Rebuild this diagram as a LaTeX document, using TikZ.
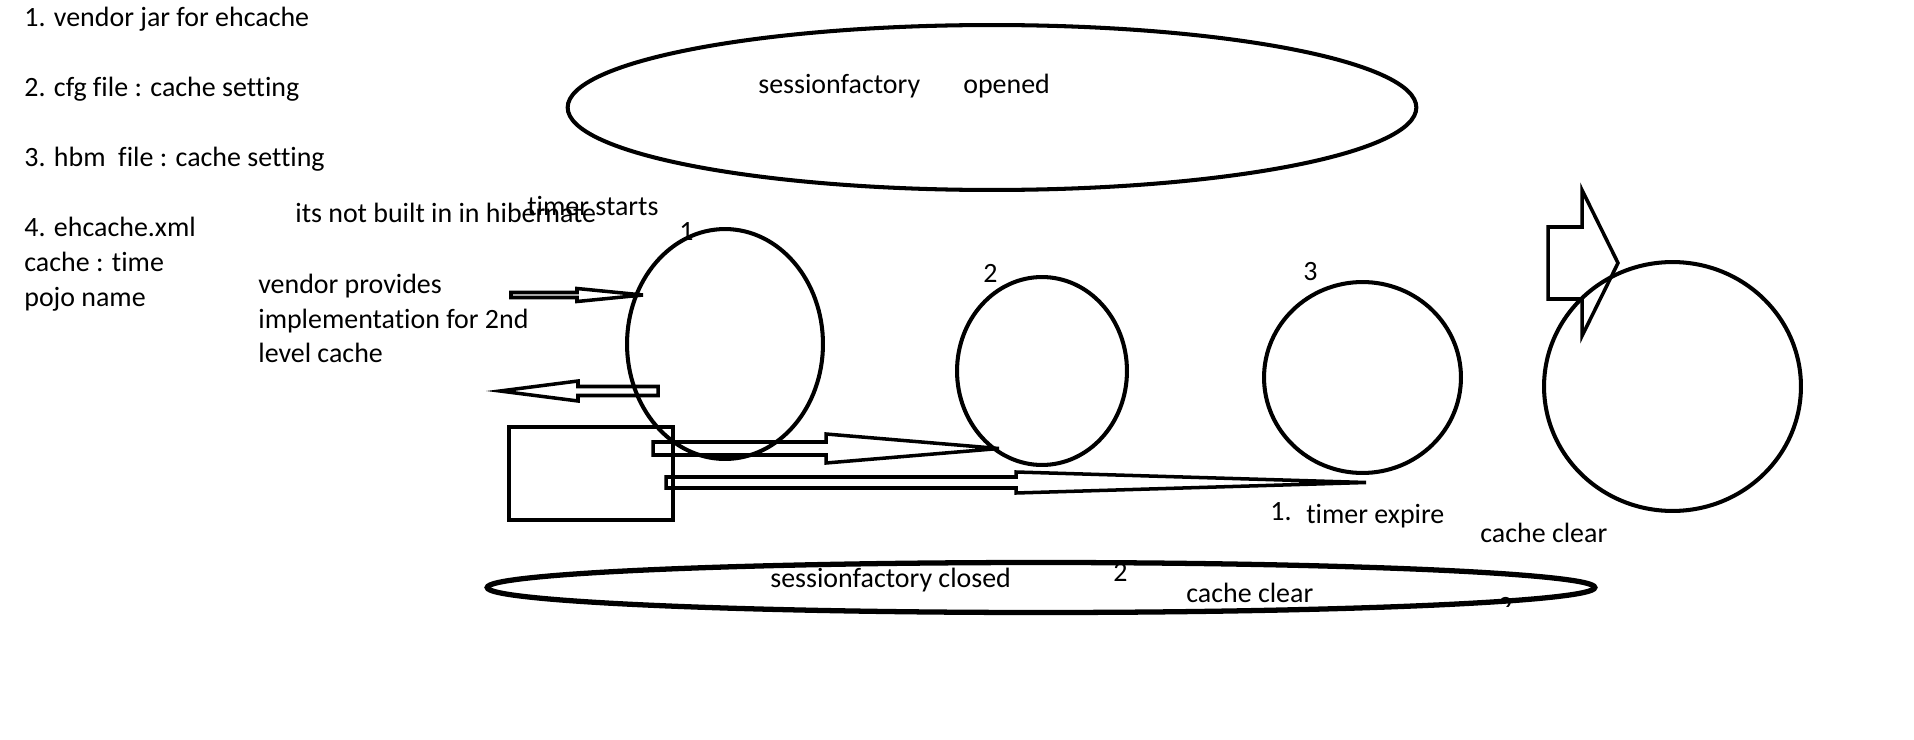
\documentclass[tikz,border=0pt]{standalone}
\usepackage{fontspec}
\setmainfont{Carlito}[Ligatures=CommonOff]
\usetikzlibrary{shapes.geometric}

% block arrow: tail x, head base x, tip x, y, shaft half, head half
\newcommand{\blockarrow}[6]{%
  \draw[barrow] (#1,#4-#5) -- (#2,#4-#5) -- (#2,#4-#6) -- (#3,#4)
    -- (#2,#4+#6) -- (#2,#4+#5) -- (#1,#4+#5) -- cycle;}

\begin{document}
\begin{tikzpicture}[
  x=0.02cm, y=-0.02cm,
  every node/.style = {font=\fontsize{15.9}{19}\selectfont, inner sep=0pt},
  txt/.style   = {anchor=base west},
  ring/.style 2 args = {ellipse, draw, line width=2.3pt,
                 minimum width=#1*0.04cm, minimum height=#2*0.04cm},
  barrow/.style = {draw, line width=2pt},
]
\useasboundingbox (0,0) rectangle (1914,740);

%% ── Left column notes ────────────────────────────────────────────────────────
\def\lx{24}
\node[txt] (n1) at (\lx, 26.7)  {1. vendor jar for ehcache};
\node[txt] (n2) at (\lx, 96.7)  {2. cfg file : cache setting};
\node[txt] (n3) at (\lx, 166.7) {3. hbm\ \ file : cache setting};
\node[txt] (n4) at (\lx, 236.7) {4. ehcache.xml};
\node[txt] (n5) at (\lx, 271.7) {cache : time};
\node[txt] (n6) at (\lx, 306.7) {pojo name};

%% ── Vendor notes ─────────────────────────────────────────────────────────────
\node[txt] (notbuilt) at (295, 222.7) {its not built in in hibernate};
\node[txt] (tstart)   at (527, 215)   {timer starts};
\node[txt] (vend1) at (258, 293.3) {vendor provides};
\node[txt] (vend2) at (258, 328.3) {implementation for 2nd};
\node[txt] (vend3) at (258, 362.7) {level cache};

%% ── Session factory opened ───────────────────────────────────────────────────
\node[ring={424.5}{82.5}] (sfo) at (992, 107.5) {};
\node[txt] (sfotxt) at (758, 93) {sessionfactory};
\node[txt] (opened) at (963, 93) {opened};

%% ── Cache regions ────────────────────────────────────────────────────────────
\node[ring={98}{115}]     (c1) at (725, 344)     {};
\node[ring={85}{94}]      (c2) at (1042, 371)    {};
\node[ring={98.5}{95.5}]  (c3) at (1362.5, 377.5) {};
\node[ring={128.5}{124.5}] (c4) at (1672.5, 386.5) {};
\node[txt] (l1) at (679, 240)  {1};
\node[txt] (l2) at (983, 282)  {2};
\node[txt] (l3) at (1303, 280) {3};

%% ── Box ──────────────────────────────────────────────────────────────────────
\node[draw, line width=2.3pt, minimum width=164*0.02cm,
      minimum height=93*0.02cm] (box) at (591, 473.5) {};

%% ── Block arrows ─────────────────────────────────────────────────────────────
\blockarrow{511}{577}{643}{295}{2.5}{6.5}
\blockarrow{658}{578}{500}{391}{4.5}{10}
\blockarrow{653}{826}{999}{448.5}{6.5}{14.5}
\blockarrow{666}{1016}{1366}{482.5}{5.5}{10.5}
\blockarrow{1548}{1582}{1618}{263}{36}{73}

%% ── Timer expire ─────────────────────────────────────────────────────────────
\node[txt] (e1)     at (1270, 520) {1.};
\node[txt] (expire) at (1306, 523) {timer expire};
\node[txt] (clr1)   at (1480, 542) {cache clear};

%% ── Session factory closed ───────────────────────────────────────────────────
\node[ring={554}{25}, line width=3pt] (sfc) at (1041, 587.5) {};
\node[txt] (sfctxt) at (770, 587)  {sessionfactory closed};
\node[txt] (l2b)    at (1113, 581) {2};
\node[txt] (clr2)   at (1186, 602) {cache clear};
\begin{scope}
  \clip (1490, 590) rectangle (1520, 606);
  \node[txt] (l3b) at (1498, 615) {2};
\end{scope}

\end{tikzpicture}
\end{document}
